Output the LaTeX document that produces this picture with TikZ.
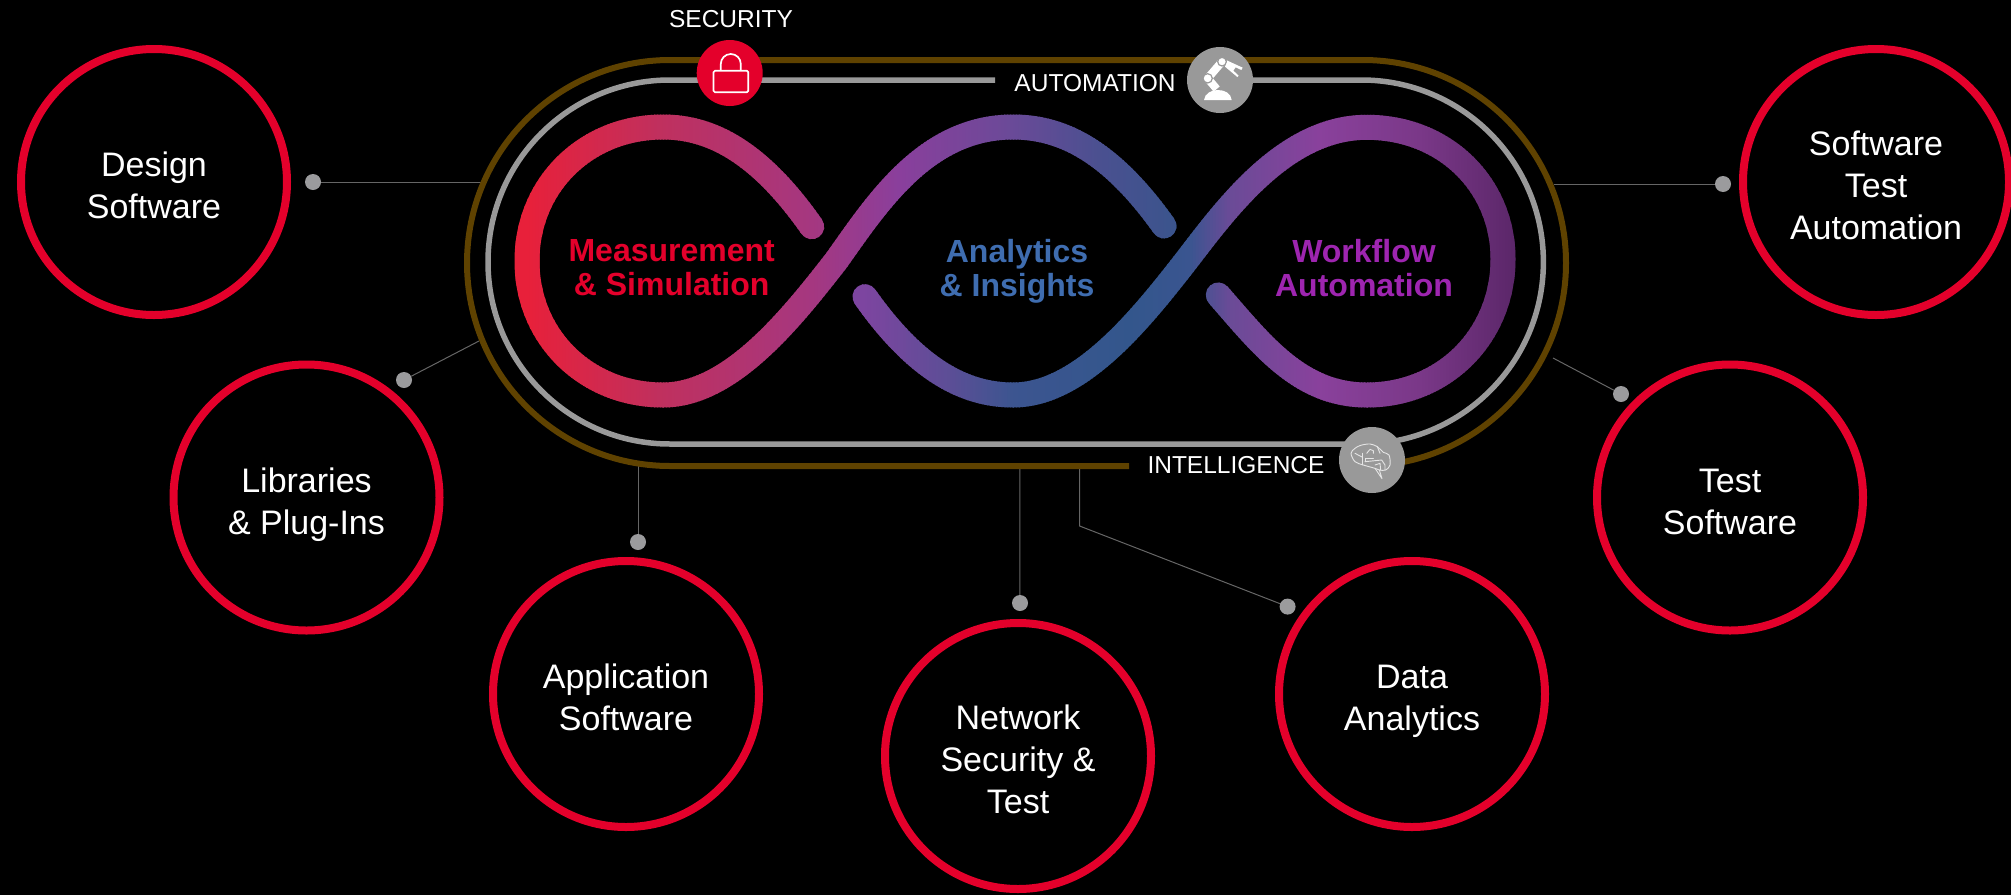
\documentclass[tikz,border=0pt]{standalone}
\usepackage{fontspec}
\setmainfont{Liberation Sans}
\definecolor{ringred}{HTML}{E4002B}
\definecolor{loopgray}{HTML}{999999}
\definecolor{loopbrown}{HTML}{5F4200}
\definecolor{wirecol}{HTML}{666666}
\definecolor{dotcol}{HTML}{9B9B9D}
\definecolor{txtred}{HTML}{E4002B}
\definecolor{txtblue}{HTML}{3F6DB0}
\definecolor{txtpurple}{HTML}{9E25B0}
% gradient stops, first lemniscate stroke
\definecolor{a0}{HTML}{E8203A}
\definecolor{a1}{HTML}{E8203A}
\definecolor{a2}{HTML}{C0305E}
\definecolor{a3}{HTML}{A53780}
\definecolor{a4}{HTML}{8A3F9C}
\definecolor{a5}{HTML}{6A4A98}
\definecolor{a6}{HTML}{4A5090}
\definecolor{a7}{HTML}{38558C}
% gradient stops, second lemniscate stroke
\definecolor{b1}{HTML}{7D45A0}
\definecolor{b2}{HTML}{5C4E96}
\definecolor{b3}{HTML}{3C5590}
\definecolor{b4}{HTML}{33568C}
\definecolor{b5}{HTML}{3A5590}
\definecolor{b6}{HTML}{6A4B97}
\definecolor{b7}{HTML}{8A419C}
\definecolor{b8}{HTML}{7A3888}
\definecolor{b9}{HTML}{5A2668}
\newcommand{\strokeA}{(811.7,226.7) .. controls (760,153) and (712,127) .. (663,127)
  .. controls (586,127) and (527,185) .. (527,261)
  .. controls (527,337) and (586,395) .. (663,395)
  .. controls (730,395) and (790,320) .. (836,261)
  .. controls (876,205) and (925,127) .. (1013,127)
  .. controls (1064,127) and (1112,153) .. (1164,226)}
\newcommand{\strokeB}{(865,296.7) .. controls (916,369) and (964,395) .. (1013,395)
  .. controls (1080,395) and (1140,320) .. (1186,261)
  .. controls (1226,209) and (1285,127.3) .. (1366.7,127.3)
  .. controls (1445,127.3) and (1503,185) .. (1503,259)
  .. controls (1503,335) and (1445,395) .. (1366.7,395)
  .. controls (1300,395) and (1262,345) .. (1218.3,295)}
\newcommand{\gradsweep}[2]{%
  \foreach \xa/\ca/\xb/\cb in {#2} {%
    \pgfmathtruncatemacro{\nst}{(\xb-\xa)/3+1}%
    \foreach \i in {1,...,\nst} {%
      \pgfmathsetmacro{\pct}{100*(\i-0.5)/\nst}%
      \pgfmathsetmacro{\xl}{\xa+(\i-1)*(\xb-\xa)/\nst}%
      \pgfmathsetmacro{\xr}{\xl+(\xb-\xa)/\nst+1}%
      \begin{scope}
        \clip (\xl,0) rectangle (\xr,895);
        \draw[lemni, draw={\cb!\pct!\ca}] #1;
      \end{scope}
    }%
  }%
}
\newcommand{\topfix}{\rule{0pt}{31pt}}
\tikzset{
  x=1pt, y=-1pt,
  lemni/.style={line width=25pt, line cap=round},
  ring/.style={circle, draw=ringred, line width=8pt, minimum size=266pt, inner sep=0pt,
    align=center, text=white, text depth=0pt, font=\fontsize{34}{42}\selectfont},
  badge/.style={circle, fill=#1, minimum size=66pt, inner sep=0pt},
  dot/.style={circle, fill=dotcol, minimum size=16pt, inner sep=0pt},
  wire/.style={draw=wirecol, line width=1pt},
  tag/.style={text=white, font=\fontsize{24.5}{28}\selectfont, inner sep=0pt},
  core/.style={align=center, font=\bfseries\fontsize{32}{34}\selectfont, inner sep=0pt, text depth=0pt},
  glyph/.style={draw=white, line width=1.7pt, line join=round},
  brainline/.style={draw=white!90!black, line width=.9pt, line join=round, line cap=round},
}
\begin{document}
\begin{tikzpicture}
\useasboundingbox (0,0) rectangle (2011,895);
\fill[black] (0,0) rectangle (2011,895);

% connector ends on the loop
\coordinate (eDesign) at (485,182);
\coordinate (eLib) at (479,341);
\coordinate (eApp) at (638,466);
\coordinate (eNet) at (1019.8,466);
\coordinate (eData) at (1079.6,466);
\coordinate (bData) at (1079.6,526);
\coordinate (eTest) at (1553,358);
\coordinate (eSTA) at (1553.7,184);

% dots
\node[dot] (dDesign) at (313,182) {};
\node[dot] (dLib) at (404,380) {};
\node[dot] (dApp) at (638,542) {};
\node[dot] (dNet) at (1020,603) {};
\node[dot] (dData) at (1287.6,606.6) {};
\node[dot] (dTest) at (1621,394) {};
\node[dot] (dSTA) at (1723,184) {};

% connectors
\draw[wire] (dDesign) -- (eDesign);
\draw[wire] (dLib) -- (eLib);
\draw[wire] (dApp) -- (eApp);
\draw[wire] (dNet) -- (eNet);
\draw[wire] (dData) -- (bData) -- (eData);
\draw[wire] (dTest) -- (eTest);
\draw[wire] (dSTA) -- (eSTA);

% outer loops
\draw[draw=loopbrown, line width=6pt, rounded corners=203pt]
  (1129,466) -- (467,466) -- (467,60) -- (1566,60) -- (1566,466) -- (1355,466);
\draw[draw=loopgray, line width=5.5pt, rounded corners=182pt]
  (995,80) -- (488,80) -- (488,444) -- (1543.4,444) -- (1543.4,80) -- (1215,80);

% lemniscate with a gradient along x
\gradsweep{\strokeA}{490/a0/527/a1,527/a1/660/a2,660/a2/812/a3,812/a3/900/a4,900/a4/1013/a5,1013/a5/1100/a6,1100/a6/1190/a7}
\gradsweep{\strokeB}{840/b1/865/b1,865/b1/950/b2,950/b2/1013/b3,1013/b3/1130/b4,1130/b4/1190/b5,1190/b5/1230/b6,1230/b6/1320/b7,1320/b7/1420/b8,1420/b8/1520/b9}

% centre labels
\node[core, text=txtred] (tMeas) at (671.7,267.7) {Measurement\\\& Simulation};
\node[core, text=txtblue] (tAna) at (1017,267.7) {Analytics\\\& Insights};
\node[core, text=txtpurple] (tWork) at (1364,267.7) {Workflow\\Automation};

% badges
\node[badge=ringred] (bSec) at (729.7,73) {};
\node[badge=loopgray] (bAuto) at (1220,80) {};
\node[badge=loopgray] (bIntel) at (1372,460) {};
\node[tag] (tSec) at (731,19.5) {SECURITY};
\node[tag] (tAuto) at (1095,83) {AUTOMATION};
\node[tag] (tIntel) at (1236,465) {INTELLIGENCE};

% lock
\draw[glyph, rounded corners=1.5pt] (713.5,70.7) rectangle (748.3,92.3);
\draw[glyph] (720.8,70.7) -- (720.8,64) .. controls (720.8,58.5) and (725.2,54) .. (730.8,54)
  .. controls (736.4,54) and (740.8,58.5) .. (740.8,64) -- (740.8,70.7);

% robot
\begin{scope}[shift={(1170,35)}, scale=1/3]
  \fill[white] (102,195) .. controls (104,175) and (125,165) .. (143,165) .. controls (165,165) and (183,175) .. (185,195) -- cycle;
  \draw[white, line width=8pt] (113,130) -- (140,162);
  \draw[white, line width=8pt] (113,130) -- (156,80);
  \fill[white] (170,76) -- (218,98) -- (214,105) -- (197,97) -- (190,107) -- (206,122) -- (202,126) -- (165,95) -- cycle;
  \draw[fill=white, draw=loopgray, line width=1.2pt] (113,130) circle[radius=14];
  \draw[fill=white, draw=loopgray, line width=1.2pt] (156,80) circle[radius=13];
\end{scope}

% brain
\begin{scope}[shift={(1320,420)}, scale=1/3]
  \draw[brainline] plot[smooth cycle, tension=.55] coordinates {(93,100) (105,85) (122,76) (150,72) (172,80) (190,97) (207,105) (210,135) (197,150) (178,150) (165,145) (130,135) (105,125)};
  \draw[brainline] (178,150) -- (186,176) -- (165,145);
  \draw[brainline] (128,100) -- (128,135);
  \draw[brainline] (128,112) -- (105,100);
  \draw[brainline] (135,125) -- (185,120) -- (195,135) -- (195,150);
  \draw[brainline] (135,125) -- (135,115) -- (160,115);
  \draw[brainline] (140,100) -- (150,88) -- (160,92) -- (160,100);
  \draw[brainline] (172,80) -- (180,100);
  \draw[brainline] (165,135) -- (180,130) -- (182,150);
\end{scope}

% product circles
\node[ring] (cDesign) at (154,182) {\topfix Design\\Software};
\node[ring] (cLib) at (306.5,497.5) {\topfix Libraries\\\& Plug-Ins};
\node[ring] (cApp) at (626,694) {\topfix Application\\Software};
\node[ring] (cNet) at (1018,756) {\topfix Network\\Security \&\\Test};
\node[ring] (cData) at (1412,694) {\topfix Data\\Analytics};
\node[ring] (cTest) at (1730,497.5) {\topfix Test\\Software};
\node[ring] (cSTA) at (1876,182) {\topfix Software\\Test\\Automation};
\end{tikzpicture}
\end{document}
